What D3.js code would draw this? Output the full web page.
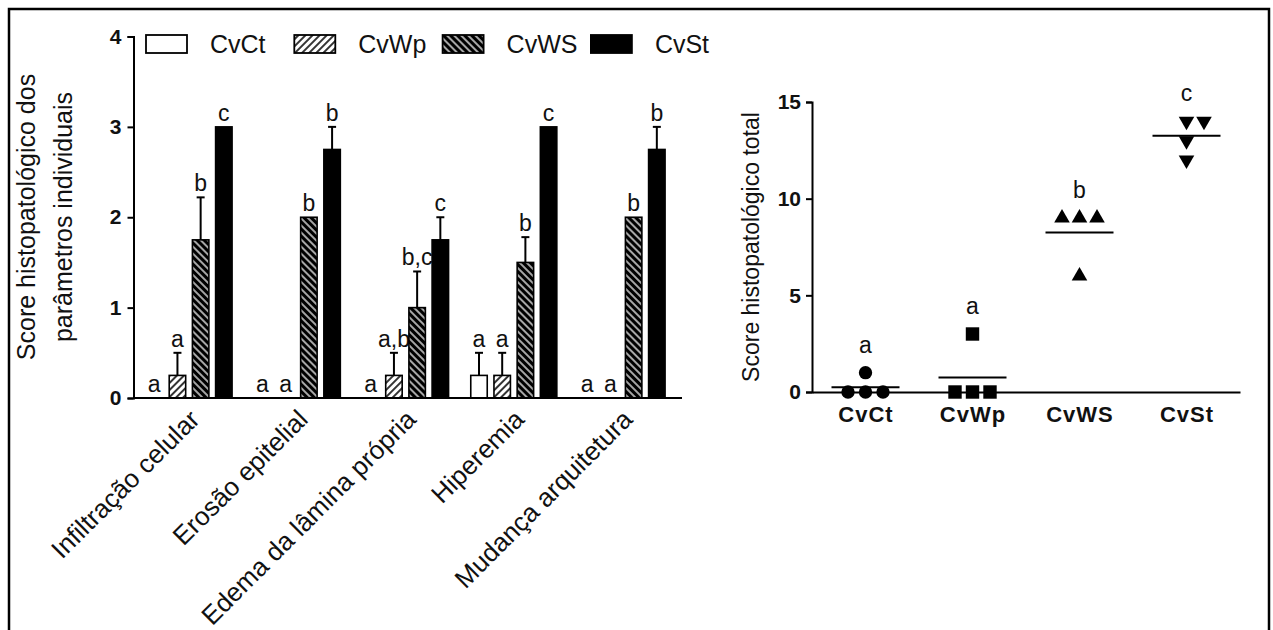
<!DOCTYPE html>
<html>
<head>
<meta charset="utf-8">
<script src="https://cdn.jsdelivr.net/npm/d3@7"></script>
<style>
  html, body { margin: 0; padding: 0; background: #fff; }
  svg { display: block; font-family: "Liberation Sans", Arial, sans-serif; }
</style>
</head>
<body>
<div id="chart"></div>
<script>
// ---- data ----
const categories = ["Infiltração celular", "Erosão epitelial", "Edema da lâmina própria", "Hiperemia", "Mudança arquitetura"];
const groups = ["CvCt", "CvWp", "CvWS", "CvSt"];

const meanCvCt = [0, 0, 0, 0.25, 0];
const meanCvWp = [0.25, 0, 0.25, 0.25, 0];
const meanCvWS = [1.75, 2, 1, 1.5, 2];
const meanCvSt = [3, 2.75, 1.75, 3, 2.75];

const semCvCt = [0, 0, 0, 0.25, 0];
const semCvWp = [0.25, 0, 0.25, 0.25, 0];
const semCvWS = [0.47, 0, 0.4, 0.28, 0];
const semCvSt = [0, 0.25, 0.25, 0, 0.25];

const letCvCt = ["a", "a", "a", "a", "a"];
const letCvWp = ["a", "a", "a,b", "a", "a"];
const letCvWS = ["b", "b", "b,c", "b", "b"];
const letCvSt = ["c", "b", "c", "c", "b"];

const leftTicks = [0, 1, 2, 3, 4];

// total score per animal
const totalCvCt = [0, 0, 0, 1];
const totalCvWp = [0, 0, 0, 3];
const totalCvWS = [9, 9, 9, 6];
const totalCvSt = [14, 14, 13, 12];
const totalLetters = ["a", "a", "b", "c"];
const rightTicks = [0, 5, 10, 15];

const W = 1273, H = 630;
const ink = "#111";

const svg = d3.select("#chart").append("svg")
  .attr("width", W).attr("height", H);

// outer frame (bottom edge falls outside the picture)
svg.append("rect")
  .attr("x", 9).attr("y", 9)
  .attr("width", 1260).attr("height", 640)
  .attr("fill", "none").attr("stroke", "#000").attr("stroke-width", 2.5);

// patterns
const defs = svg.append("defs");
const p1 = defs.append("pattern").attr("id", "hatchWp")
  .attr("patternUnits", "userSpaceOnUse").attr("width", 5).attr("height", 5)
  .attr("patternTransform", "rotate(45)");
p1.append("rect").attr("width", 5).attr("height", 5).attr("fill", "#fff");
p1.append("line").attr("x1", 1).attr("x2", 1).attr("y1", 0).attr("y2", 5)
  .attr("stroke", "#000").attr("stroke-width", 1.6);

const p2 = defs.append("pattern").attr("id", "hatchWS")
  .attr("patternUnits", "userSpaceOnUse").attr("width", 5).attr("height", 5)
  .attr("patternTransform", "rotate(-45)");
p2.append("rect").attr("width", 5).attr("height", 5).attr("fill", "#000");
p2.append("line").attr("x1", 1).attr("x2", 1).attr("y1", 0).attr("y2", 5)
  .attr("stroke", "#fff").attr("stroke-width", 1.3);

const fills = { CvCt: "#fff", CvWp: "url(#hatchWp)", CvWS: "url(#hatchWS)", CvSt: "#000" };

// ================= left chart: grouped bars =================
const means = { CvCt: meanCvCt, CvWp: meanCvWp, CvWS: meanCvWS, CvSt: meanCvSt };
const sems = { CvCt: semCvCt, CvWp: semCvWp, CvWS: semCvWS, CvSt: semCvSt };
const lets = { CvCt: letCvCt, CvWp: letCvWp, CvWS: letCvWS, CvSt: letCvSt };

const rows = [];
categories.forEach((c, i) => {
  groups.forEach(g => rows.push({ cat: c, group: g, v: means[g][i], e: sems[g][i], l: lets[g][i] }));
});

const x0 = d3.scaleBand().domain(categories).range([133.5, 682])
  .paddingInner(0.205).paddingOuter(0.136).align(0.425);
const x1 = d3.scaleBand().domain(groups).range([0, x0.bandwidth()]).paddingInner(0.29);
const yL = d3.scaleLinear().domain([0, 4]).range([398, 36.5]);

const left = svg.append("g");

const bars = left.selectAll("g.bar").data(rows).join("g")
  .attr("transform", d => `translate(${x0(d.cat) + x1(d.group)},0)`);

bars.filter(d => d.v > 0).append("rect")
  .attr("y", d => yL(d.v))
  .attr("width", x1.bandwidth())
  .attr("height", d => yL(0) - yL(d.v))
  .attr("fill", d => fills[d.group])
  .attr("stroke", "#000").attr("stroke-width", 1.6);

// error bars (upper only)
const eb = bars.filter(d => d.e > 0);
eb.append("line")
  .attr("x1", x1.bandwidth() / 2).attr("x2", x1.bandwidth() / 2)
  .attr("y1", d => yL(d.v)).attr("y2", d => yL(d.v + d.e))
  .attr("stroke", "#000").attr("stroke-width", 2);
eb.append("line")
  .attr("x1", x1.bandwidth() / 2 - 4).attr("x2", x1.bandwidth() / 2 + 4)
  .attr("y1", d => yL(d.v + d.e)).attr("y2", d => yL(d.v + d.e))
  .attr("stroke", "#000").attr("stroke-width", 2);

bars.append("text")
  .attr("x", x1.bandwidth() / 2)
  .attr("y", d => yL(d.v + d.e) - 6)
  .attr("text-anchor", "middle")
  .attr("font-size", 23).attr("fill", ink)
  .text(d => d.l);

// axes
const yAxL = left.append("g").attr("transform", "translate(133.5,0)")
  .call(d3.axisLeft(yL).tickValues(leftTicks).tickFormat(d3.format("d")).tickSize(6).tickPadding(6));
yAxL.select(".domain").attr("stroke-width", 2);
yAxL.selectAll(".tick line").attr("stroke-width", 2);
yAxL.selectAll("text").attr("font-size", 21).attr("font-weight", "bold")
  .attr("font-family", "Liberation Sans, Arial, sans-serif").attr("fill", ink);

left.append("line").attr("x1", 133.5).attr("x2", 682).attr("y1", 398).attr("y2", 398)
  .attr("stroke", "#000").attr("stroke-width", 2);

// rotated category labels
left.selectAll("text.cat").data(categories).join("text")
  .attr("class", "cat")
  .attr("transform", d => `translate(${x0(d) + x0.bandwidth() / 2 + 12},${421}) rotate(-45)`)
  .attr("text-anchor", "end")
  .attr("font-size", 26).attr("fill", ink)
  .text(d => d);

// y title (two lines)
const yt = left.append("text")
  .attr("transform", `translate(0,217) rotate(-90)`)
  .attr("text-anchor", "middle")
  .attr("font-size", 25).attr("fill", ink);
yt.append("tspan").attr("x", 0).attr("y", 35).text("Score histopatológico dos");
yt.append("tspan").attr("x", 0).attr("y", 72).text("parâmetros individuais");

// legend
const leg = left.append("g");
groups.forEach((g, i) => {
  const lx = 146 + i * 148.3;
  leg.append("rect").attr("x", lx).attr("y", 35).attr("width", 41).attr("height", 18)
    .attr("fill", fills[g]).attr("stroke", "#000").attr("stroke-width", 1.8);
  leg.append("text").attr("x", lx + 64).attr("y", 53)
    .attr("font-size", 25).attr("fill", ink).text(g);
});

// ================= right chart: scatter with means =================
const totals = { CvCt: totalCvCt, CvWp: totalCvWp, CvWS: totalCvWS, CvSt: totalCvSt };
const shapes = { CvCt: d3.symbolCircle, CvWp: d3.symbolSquare, CvWS: d3.symbolTriangle, CvSt: d3.symbolTriangle };
const sizes = { CvCt: 140, CvWp: 180, CvWS: 105, CvSt: 105 };

const xR = d3.scalePoint().domain(groups).range([812, 1240]).padding(0.5);
const yR = d3.scaleLinear().domain([0, 15]).range([392, 102]);

const right = svg.append("g");

// spread overlapping points sideways
const spread = 17.5;
groups.forEach((g, gi) => {
  const placed = [];
  totals[g].forEach(v => {
    const py = yR(v);
    let k = 0;
    const order = [0, 1, -1, 2, -2, 3, -3];
    for (const o of order) {
      const px = o * spread;
      if (!placed.some(p => Math.abs(p.x - px) < 14 && Math.abs(p.y - py) < 14)) { k = o; break; }
    }
    placed.push({ x: k * spread, y: py, v });
  });
  const cg = right.append("g").attr("transform", `translate(${xR(g)},0)`);
  cg.selectAll("path.pt").data(placed).join("path")
    .attr("class", "pt")
    .attr("transform", d => `translate(${d.x},${d.y})` + (g === "CvSt" ? " rotate(180)" : ""))
    .attr("d", d3.symbol().type(shapes[g]).size(sizes[g]))
    .attr("fill", "#000");
  const m = d3.mean(totals[g]);
  cg.append("line").attr("x1", -34).attr("x2", 34)
    .attr("y1", yR(m)).attr("y2", yR(m))
    .attr("stroke", "#000").attr("stroke-width", 2);
  cg.append("text").attr("x", 0).attr("y", yR(d3.max(totals[g])) - 20)
    .attr("text-anchor", "middle").attr("font-size", 23).attr("fill", ink)
    .text(totalLetters[gi]);
});

const yAxR = right.append("g").attr("transform", "translate(812,0)")
  .call(d3.axisLeft(yR).tickValues(rightTicks).tickSize(6).tickPadding(5));
yAxR.select(".domain").attr("stroke-width", 2);
yAxR.selectAll(".tick line").attr("stroke-width", 2);
yAxR.selectAll("text").attr("font-size", 21).attr("font-weight", "bold")
  .attr("font-family", "Liberation Sans, Arial, sans-serif").attr("fill", ink);

const xAxR = right.append("g").attr("transform", "translate(0,392)")
  .call(d3.axisBottom(xR).tickSize(0).tickPadding(14));
xAxR.select(".domain").attr("stroke-width", 2);
xAxR.selectAll("text").attr("font-size", 22).attr("font-weight", "bold")
  .attr("font-family", "Liberation Sans, Arial, sans-serif").attr("fill", ink)
  .attr("letter-spacing", 1)
  .attr("dy", "0.71em");

right.append("text")
  .attr("transform", "translate(759,247) rotate(-90)")
  .attr("text-anchor", "middle").attr("font-size", 23).attr("fill", ink)
  .text("Score histopatológico total");
</script>
</body>
</html>
